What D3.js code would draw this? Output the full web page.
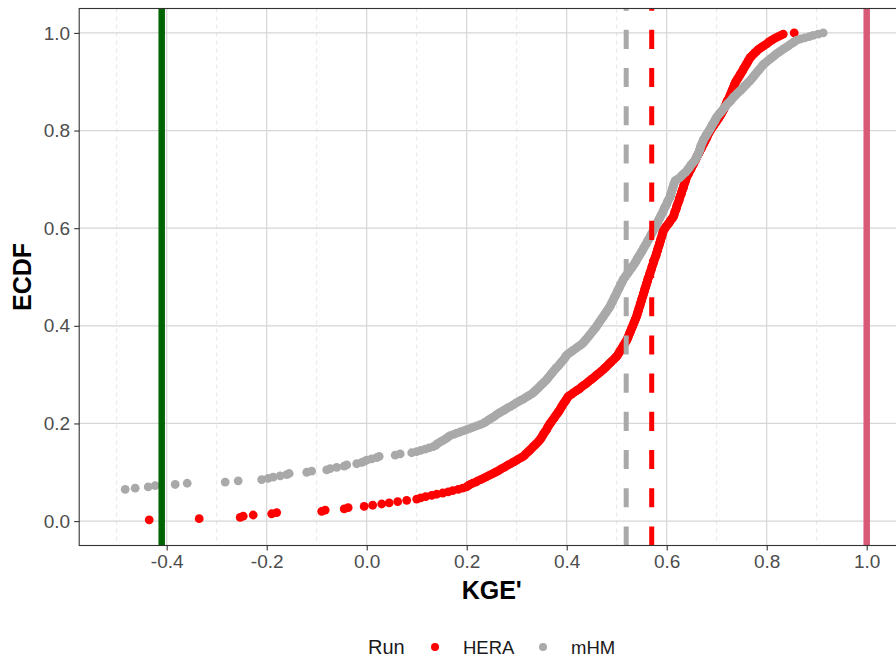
<!DOCTYPE html>
<html>
<head>
<meta charset="utf-8">
<script src="https://cdn.jsdelivr.net/npm/d3@7"></script>
<style>
  body { margin: 0; background: #fff; }
  svg { display: block; }
</style>
</head>
<body>
<div id="chart"></div>
<script>
// Runs and their colours
const runs = ["HERA", "mHM"];
const runColors = ["#FF0000", "#A9A9A9"];

// KGE' per catchment, one value per station
const heraKGE = [
  -0.435, -0.335, -0.253, -0.247, -0.227, -0.19, -0.18, -0.09, -0.083, -0.045, -0.037, -0.005,
  0.012, 0.03, 0.045, 0.062, 0.08, 0.1,
  0.108, 0.118, 0.13, 0.14, 0.152, 0.163, 0.172, 0.183, 0.192, 0.2,
  0.203, 0.207, 0.212, 0.218, 0.222, 0.228, 0.233, 0.238, 0.243, 0.248, 0.253, 0.257, 0.262, 0.266,
  0.27, 0.275, 0.279, 0.283, 0.288, 0.292, 0.296, 0.3, 0.304, 0.309, 0.313,
  0.316, 0.318, 0.321, 0.323, 0.326, 0.328, 0.331, 0.333, 0.336, 0.338, 0.341, 0.343, 0.345, 0.347,
  0.349, 0.35, 0.352, 0.353, 0.355, 0.356, 0.358, 0.36, 0.361, 0.362, 0.364, 0.365, 0.367,
  0.369, 0.37, 0.372, 0.374, 0.376, 0.377, 0.379, 0.381, 0.383, 0.384, 0.386, 0.387,
  0.389, 0.39, 0.392, 0.393, 0.395, 0.397, 0.398, 0.4, 0.401, 0.403,
  0.406, 0.41, 0.413, 0.417, 0.42, 0.424, 0.427, 0.43, 0.433, 0.437, 0.44,
  0.443, 0.446, 0.449, 0.452, 0.455, 0.458, 0.461, 0.464, 0.467, 0.47, 0.473,
  0.475, 0.478, 0.48, 0.483, 0.485, 0.488, 0.49, 0.493, 0.495, 0.498, 0.5,
  0.502, 0.503, 0.505, 0.506, 0.508, 0.509, 0.511, 0.512, 0.514, 0.515, 0.517, 0.518, 0.52,
  0.521, 0.522, 0.523, 0.524, 0.525, 0.526, 0.527, 0.528, 0.529, 0.53, 0.531, 0.532, 0.533, 0.534, 0.535, 0.536, 0.537, 0.538, 0.539, 0.54,
  0.541, 0.541, 0.542, 0.543, 0.544, 0.544, 0.545, 0.546, 0.547, 0.547, 0.548, 0.549, 0.55, 0.55, 0.551, 0.552, 0.553, 0.553, 0.554, 0.555, 0.556, 0.556, 0.557, 0.558, 0.559, 0.559, 0.56,
  0.561, 0.562, 0.562, 0.563, 0.564, 0.565, 0.566, 0.566, 0.567, 0.568, 0.569, 0.57, 0.57, 0.571, 0.572, 0.573, 0.574, 0.574, 0.575, 0.576, 0.577,
  0.578, 0.579, 0.579, 0.58, 0.581, 0.582, 0.582, 0.583, 0.584, 0.585, 0.585, 0.586, 0.587, 0.588, 0.588, 0.589, 0.59, 0.591, 0.591, 0.592, 0.593, 0.593,
  0.595, 0.597, 0.598, 0.6, 0.602, 0.604, 0.606, 0.607, 0.609, 0.611, 0.613,
  0.614, 0.615, 0.615, 0.616, 0.617, 0.618, 0.619, 0.62, 0.62, 0.621, 0.622, 0.623, 0.624, 0.625, 0.625, 0.626, 0.627,
  0.628, 0.629, 0.63, 0.63, 0.631, 0.632, 0.633, 0.634, 0.634, 0.635, 0.636, 0.637, 0.638, 0.638, 0.639, 0.64,
  0.641, 0.643, 0.644, 0.645, 0.646, 0.648, 0.649, 0.65, 0.651, 0.653, 0.654, 0.655, 0.656, 0.658, 0.659, 0.66,
  0.661, 0.662, 0.664, 0.665, 0.666, 0.667, 0.669, 0.67, 0.671, 0.672, 0.674, 0.675, 0.676, 0.677, 0.679, 0.68, 0.681, 0.682, 0.683, 0.684, 0.686, 0.687,
  0.689, 0.69, 0.692, 0.694, 0.695, 0.697, 0.699, 0.7, 0.702, 0.704, 0.705, 0.707, 0.708, 0.71,
  0.711, 0.712, 0.714, 0.715, 0.716, 0.717, 0.718, 0.719, 0.72, 0.721, 0.722, 0.724, 0.725,
  0.726, 0.727, 0.728, 0.729, 0.73, 0.731, 0.732, 0.733, 0.734, 0.735, 0.736, 0.737, 0.738, 0.74,
  0.741, 0.743, 0.744, 0.746, 0.747, 0.749, 0.75, 0.752, 0.753, 0.754, 0.756, 0.757, 0.759, 0.76, 0.762, 0.763, 0.764, 0.766, 0.767,
  0.77, 0.772, 0.775, 0.777, 0.78, 0.782, 0.785,
  0.789, 0.792, 0.796, 0.8, 0.803, 0.806, 0.81,
  0.814, 0.818, 0.823, 0.828, 0.833,
  0.855
];

const mhmKGE = [
  // below the visible x range (clipped, but they count for the ECDF)
  -3.2, -2.5, -2.1, -1.9, -1.7, -1.55, -1.4, -1.3, -1.2, -1.12, -1.05, -0.98, -0.92,
  -0.87, -0.83, -0.79, -0.76, -0.73, -0.7, -0.68, -0.66, -0.64, -0.62, -0.6, -0.59,
  -0.483, -0.463, -0.437, -0.423, -0.383, -0.359, -0.283, -0.257, -0.21, -0.197, -0.187, -0.173,
  -0.16, -0.155, -0.12, -0.11, -0.08, -0.073, -0.06, -0.045, -0.04, -0.02, -0.01, -0.005,
  0.0, 0.01, 0.02, 0.025, 0.057, 0.067, 0.09, 0.1, 0.108, 0.117, 0.125, 0.133, 0.138, 0.14,
  0.144, 0.148, 0.152, 0.156, 0.16, 0.163, 0.167,
  0.174, 0.18, 0.187, 0.193, 0.2,
  0.207, 0.213, 0.22, 0.227, 0.233,
  0.237, 0.241, 0.244, 0.248, 0.252, 0.256, 0.259, 0.263, 0.267,
  0.271, 0.275, 0.279, 0.283, 0.288, 0.292, 0.296, 0.3,
  0.304, 0.308, 0.313, 0.317, 0.321, 0.325, 0.329, 0.333,
  0.335, 0.338, 0.34, 0.343, 0.345, 0.348, 0.35, 0.353, 0.355, 0.358, 0.36,
  0.362, 0.364, 0.366, 0.368, 0.37, 0.372, 0.374, 0.376, 0.378, 0.38, 0.383,
  0.385, 0.387, 0.389, 0.391, 0.393, 0.395, 0.397, 0.398, 0.4,
  0.403, 0.407, 0.41, 0.413, 0.417, 0.42, 0.423, 0.427, 0.43, 0.433,
  0.435, 0.437, 0.439, 0.441, 0.443, 0.445, 0.447, 0.449, 0.451, 0.453, 0.455, 0.457,
  0.459, 0.46, 0.462, 0.464, 0.465, 0.467, 0.469, 0.47, 0.472, 0.474, 0.475, 0.477, 0.479, 0.48, 0.482, 0.484, 0.485, 0.487,
  0.488, 0.489, 0.49, 0.492, 0.493, 0.494, 0.495, 0.496, 0.498, 0.499, 0.5, 0.501, 0.502, 0.504, 0.505, 0.506, 0.507, 0.508, 0.51, 0.511, 0.512, 0.513,
  0.515, 0.517, 0.518, 0.52, 0.522, 0.524, 0.525, 0.527, 0.529, 0.531, 0.532, 0.534, 0.536, 0.537, 0.539, 0.54,
  0.541, 0.543, 0.544, 0.546, 0.547, 0.549, 0.55, 0.552, 0.553, 0.554, 0.556, 0.557, 0.559, 0.56, 0.561, 0.563, 0.564, 0.566, 0.567,
  0.568, 0.569, 0.571, 0.572, 0.573, 0.574, 0.576, 0.577, 0.578, 0.579, 0.581, 0.582, 0.583, 0.584, 0.586, 0.587,
  0.588, 0.589, 0.591, 0.592, 0.593, 0.594, 0.595, 0.596, 0.598, 0.599, 0.6, 0.601, 0.602, 0.603, 0.605, 0.606, 0.607,
  0.608, 0.608, 0.609, 0.61, 0.611, 0.611, 0.612, 0.613, 0.614, 0.614, 0.615, 0.616, 0.617,
  0.621, 0.625, 0.628, 0.63, 0.633, 0.635, 0.638, 0.64,
  0.642, 0.644, 0.646, 0.647, 0.649, 0.651, 0.653, 0.655, 0.657, 0.658, 0.66,
  0.661, 0.662, 0.663, 0.664, 0.665, 0.666, 0.667, 0.667, 0.668, 0.669, 0.67, 0.671, 0.672, 0.673,
  0.674, 0.676, 0.677, 0.679, 0.68, 0.682, 0.683, 0.685, 0.686, 0.688, 0.689, 0.69, 0.692, 0.693, 0.695, 0.696, 0.697, 0.699, 0.7,
  0.702, 0.704, 0.706, 0.708, 0.71, 0.712, 0.714, 0.716, 0.718, 0.72, 0.722, 0.725, 0.727, 0.729, 0.731, 0.733,
  0.735, 0.738, 0.74, 0.743, 0.745, 0.748, 0.75, 0.753, 0.755, 0.757, 0.76, 0.762, 0.765, 0.767,
  0.769, 0.771, 0.773, 0.775, 0.777, 0.779, 0.781, 0.783, 0.785, 0.787, 0.789, 0.791, 0.793,
  0.796, 0.799, 0.802, 0.805, 0.808, 0.811, 0.814, 0.817, 0.82, 0.824, 0.827,
  0.831, 0.834, 0.838, 0.842, 0.845, 0.849, 0.853, 0.856, 0.86,
  0.868, 0.876, 0.885, 0.893,
  0.903, 0.913
];

// Median KGE' of each run (dashed lines), same order as runs
const medianKGE = [0.57, 0.519];

// Reference lines: mean-flow benchmark and perfect score
const refKGE = [-0.41, 1.0];
const refColors = ["#006400", "#D85A78"];

// Axis ticks
const xTicks = [-0.4, -0.2, 0.0, 0.2, 0.4, 0.6, 0.8, 1.0];
const xMinorTicks = [-0.5, -0.3, -0.1, 0.1, 0.3, 0.5, 0.7, 0.9, 1.1];
const yTicks = [0.0, 0.2, 0.4, 0.6, 0.8, 1.0];

const width = 896;
const height = 659;
const FONT = "'Liberation Sans', Arial, sans-serif";

// Panel (ggplot-style, x zoomed to [-0.5, 1] with 5% expansion; right side runs off the picture)
const panel = { left: 79.2, right: 904.2, top: 8.5, bottom: 545.5 };

const x = d3.scaleLinear().domain([-0.575, 1.075]).range([panel.left, panel.right]);
const y = d3.scaleLinear().domain([-0.05, 1.05]).range([panel.bottom, panel.top]);

const svg = d3
  .select("#chart")
  .append("svg")
  .attr("width", width)
  .attr("height", height)
  .style("font-family", FONT);

svg
  .append("defs")
  .append("clipPath")
  .attr("id", "panel-clip")
  .append("rect")
  .attr("x", panel.left)
  .attr("y", panel.top)
  .attr("width", panel.right - panel.left)
  .attr("height", panel.bottom - panel.top);

const plot = svg.append("g").attr("clip-path", "url(#panel-clip)");

// Minor vertical grid (dashed)
plot
  .selectAll("line.minor-x")
  .data(xMinorTicks)
  .enter()
  .append("line")
  .attr("class", "minor-x")
  .attr("x1", (d) => x(d))
  .attr("x2", (d) => x(d))
  .attr("y1", panel.top)
  .attr("y2", panel.bottom)
  .attr("stroke", "#E3E3E3")
  .attr("stroke-width", 0.9)
  .attr("stroke-dasharray", "4,4");

// Major grid
plot
  .selectAll("line.major-x")
  .data(xTicks)
  .enter()
  .append("line")
  .attr("class", "major-x")
  .attr("x1", (d) => x(d))
  .attr("x2", (d) => x(d))
  .attr("y1", panel.top)
  .attr("y2", panel.bottom)
  .attr("stroke", "#D6D6D6")
  .attr("stroke-width", 1.2);

plot
  .selectAll("line.major-y")
  .data(yTicks)
  .enter()
  .append("line")
  .attr("class", "major-y")
  .attr("x1", panel.left)
  .attr("x2", panel.right)
  .attr("y1", (d) => y(d))
  .attr("y2", (d) => y(d))
  .attr("stroke", "#D6D6D6")
  .attr("stroke-width", 1.2);

// ECDF points, one series per run
function ecdf(values) {
  const sorted = values.slice().sort(d3.ascending);
  const n = sorted.length;
  return sorted.map((v, i) => ({ kge: v, p: (i + 1) / n }));
}

const series = [heraKGE, mhmKGE];

series.forEach((values, i) => {
  plot
    .append("g")
    .selectAll("circle")
    .data(ecdf(values))
    .enter()
    .append("circle")
    .attr("cx", (d) => x(d.kge))
    .attr("cy", (d) => y(d.p))
    .attr("r", 4.4)
    .attr("fill", runColors[i]);
});

// Median lines (dashed, pattern starting from the bottom)
plot
  .selectAll("line.median")
  .data(medianKGE)
  .enter()
  .append("line")
  .attr("class", "median")
  .attr("x1", (d) => x(d))
  .attr("x2", (d) => x(d))
  .attr("y1", panel.bottom)
  .attr("y2", panel.top)
  .attr("stroke", (d, i) => runColors[i])
  .attr("stroke-width", 5)
  .attr("stroke-dasharray", "19.1,19.1");

// Reference lines
plot
  .selectAll("line.ref")
  .data(refKGE)
  .enter()
  .append("line")
  .attr("class", "ref")
  .attr("x1", (d) => x(d))
  .attr("x2", (d) => x(d))
  .attr("y1", panel.bottom)
  .attr("y2", panel.top)
  .attr("stroke", (d, i) => refColors[i])
  .attr("stroke-width", 6.5);

// Panel border
svg
  .append("rect")
  .attr("x", panel.left)
  .attr("y", panel.top)
  .attr("width", panel.right - panel.left)
  .attr("height", panel.bottom - panel.top)
  .attr("fill", "none")
  .attr("stroke", "#333333")
  .attr("stroke-width", 1.1);

// Axes
const fmt = (d) => d.toFixed(1);

const xAxis = svg
  .append("g")
  .attr("transform", `translate(0,${panel.bottom})`)
  .call(d3.axisBottom(x).tickValues(xTicks).tickFormat(fmt).tickSize(5).tickPadding(4));

const yAxis = svg
  .append("g")
  .attr("transform", `translate(${panel.left},0)`)
  .call(d3.axisLeft(y).tickValues(yTicks).tickFormat(fmt).tickSize(5).tickPadding(4));

[xAxis, yAxis].forEach((ax) => {
  ax.select(".domain").remove();
  ax.selectAll(".tick line").attr("stroke", "#333333").attr("stroke-width", 1.1);
  ax.selectAll(".tick text")
    .attr("fill", "#4D4D4D")
    .style("font-family", FONT)
    .style("font-size", "19px");
});

// Axis titles
svg
  .append("text")
  .attr("x", (panel.left + panel.right) / 2)
  .attr("y", 599)
  .attr("text-anchor", "middle")
  .attr("font-size", 25)
  .attr("font-weight", "bold")
  .attr("fill", "#000")
  .text("KGE'");

svg
  .append("text")
  .attr("transform", `translate(31,${(panel.top + panel.bottom) / 2}) rotate(-90)`)
  .attr("text-anchor", "middle")
  .attr("font-size", 25)
  .attr("font-weight", "bold")
  .attr("fill", "#000")
  .text("ECDF");

// Legend at the bottom
const legend = svg.append("g").attr("transform", "translate(0,647)");

legend
  .append("text")
  .attr("x", 368)
  .attr("y", 7)
  .attr("font-size", 20)
  .attr("fill", "#1A1A1A")
  .text("Run");

const legendX = [435, 543];

legend
  .selectAll("circle")
  .data(runs)
  .enter()
  .append("circle")
  .attr("cx", (d, i) => legendX[i])
  .attr("cy", 0)
  .attr("r", 4)
  .attr("fill", (d, i) => runColors[i]);

legend
  .selectAll("text.item")
  .data(runs)
  .enter()
  .append("text")
  .attr("class", "item")
  .attr("x", (d, i) => legendX[i] + 28)
  .attr("y", 6.5)
  .attr("font-size", 18.5)
  .attr("fill", "#1A1A1A")
  .text((d) => d);
</script>
</body>
</html>
